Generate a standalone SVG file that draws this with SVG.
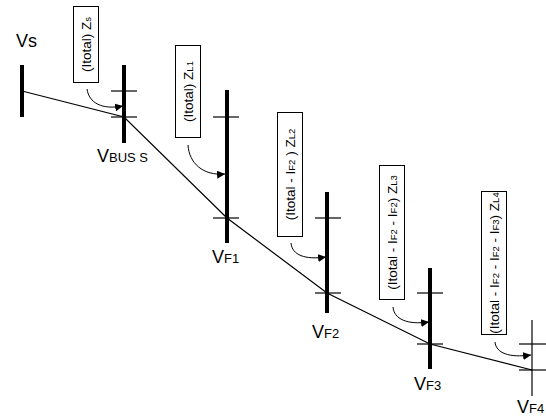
<svg xmlns="http://www.w3.org/2000/svg" width="546" height="420" viewBox="0 0 546 420">
<style>
.bus{stroke:#000;stroke-width:4;fill:none}
.thin{stroke:#000;stroke-width:1.2;fill:none}
.tick{stroke:#000;stroke-width:1.2}
.box{fill:#fff;stroke:#000;stroke-width:1}
.lbl{font-family:"Liberation Sans",Arial,sans-serif;font-size:13.5px;fill:#000}
.v{font-family:"Liberation Sans",Arial,sans-serif;font-size:18px;fill:#000}
.sub{font-size:9.5px}
.vsub{font-size:13px}
.arr{stroke:#000;stroke-width:1;fill:none;marker-end:url(#ah)}
</style>
<defs>
<marker id="ah" markerUnits="userSpaceOnUse" markerWidth="10" markerHeight="8" refX="8" refY="4" orient="auto">
<path d="M0,0 L8,4 L0,8 z" fill="#000"/>
</marker>
</defs>
<g id="connectors">
<polyline class="thin" points="22,91 124,117 227,218 327,293 430,344 532,370"/>
<path class="arr" d="M87,89 C89,103 102,110 123,106"/>
<path class="arr" d="M188,145 C189,163 203,176 225,174"/>
<path class="arr" d="M291,243 C292,255 305,260 326,257"/>
<path class="arr" d="M393,307 C394,319 407,325 429,322"/>
<path class="arr" d="M495,342 C496,353 509,358 531,355"/>
</g>
<g id="node-vs">
<line class="bus" x1="22" y1="65" x2="22" y2="117"/>
<text class="v" x="16" y="47">Vs</text>
</g>
<g id="node-bus-s">
<line class="bus" x1="124" y1="65" x2="124" y2="143"/>
<line class="tick" x1="111" y1="91" x2="137" y2="91"/>
<line class="tick" x1="111" y1="117" x2="137" y2="117"/>
<text class="v" x="97" y="162">V<tspan class="vsub">BUS S</tspan></text>
</g>
<g id="node-f1">
<line class="bus" x1="227" y1="90" x2="227" y2="243"/>
<line class="tick" x1="213" y1="117" x2="239" y2="117"/>
<line class="tick" x1="213" y1="218" x2="239" y2="218"/>
<text class="v" x="212" y="263">V<tspan class="vsub">F1</tspan></text>
</g>
<g id="node-f2">
<line class="bus" x1="327" y1="192" x2="327" y2="313"/>
<line class="tick" x1="315" y1="218" x2="341" y2="218"/>
<line class="tick" x1="315" y1="293" x2="341" y2="293"/>
<text class="v" x="312" y="338">V<tspan class="vsub">F2</tspan></text>
</g>
<g id="node-f3">
<line class="bus" x1="430" y1="268" x2="430" y2="369"/>
<line class="tick" x1="417" y1="293" x2="443" y2="293"/>
<line class="tick" x1="417" y1="344" x2="443" y2="344"/>
<text class="v" x="414" y="390">V<tspan class="vsub">F3</tspan></text>
</g>
<g id="node-f4">
<line class="thin" x1="532" y1="320" x2="532" y2="396"/>
<line class="tick" x1="519" y1="344" x2="546" y2="344"/>
<line class="tick" x1="519" y1="370" x2="546" y2="370"/>
<text class="v" x="517" y="413">V<tspan class="vsub">F4</tspan></text>
</g>
<g id="box-zs">
<rect class="box" x="73.5" y="6.5" width="25" height="76"/>
<text class="lbl" transform="translate(86,44.5) rotate(-90)" y="4.8" text-anchor="middle">(Itotal) Z<tspan class="sub">s</tspan></text>
</g>
<g id="box-zl1">
<rect class="box" x="175.5" y="45.5" width="25" height="92"/>
<text class="lbl" transform="translate(188,91.5) rotate(-90)" y="4.8" text-anchor="middle">(Itotal) Z<tspan class="sub">L1</tspan></text>
</g>
<g id="box-zl2">
<rect class="box" x="277.5" y="112.5" width="25" height="124"/>
<text class="lbl" transform="translate(290,174.5) rotate(-90)" y="4.8" text-anchor="middle">(Itotal - I<tspan class="sub">F2</tspan> ) Z<tspan class="sub">L2</tspan></text>
</g>
<g id="box-zl3">
<rect class="box" x="379.5" y="165.5" width="25" height="134"/>
<text class="lbl" transform="translate(392,232.5) rotate(-90)" y="4.8" text-anchor="middle">(Itotal - I<tspan class="sub">F2</tspan> - I<tspan class="sub">F2</tspan>) Z<tspan class="sub">L3</tspan></text>
</g>
<g id="box-zl4">
<rect class="box" x="481.5" y="191.5" width="25" height="143"/>
<text class="lbl" transform="translate(494,263) rotate(-90)" y="4.8" text-anchor="middle">(Itotal - I<tspan class="sub">F2</tspan> - I<tspan class="sub">F2</tspan> - I<tspan class="sub">F3</tspan>) Z<tspan class="sub">L4</tspan></text>
</g>
</svg>
